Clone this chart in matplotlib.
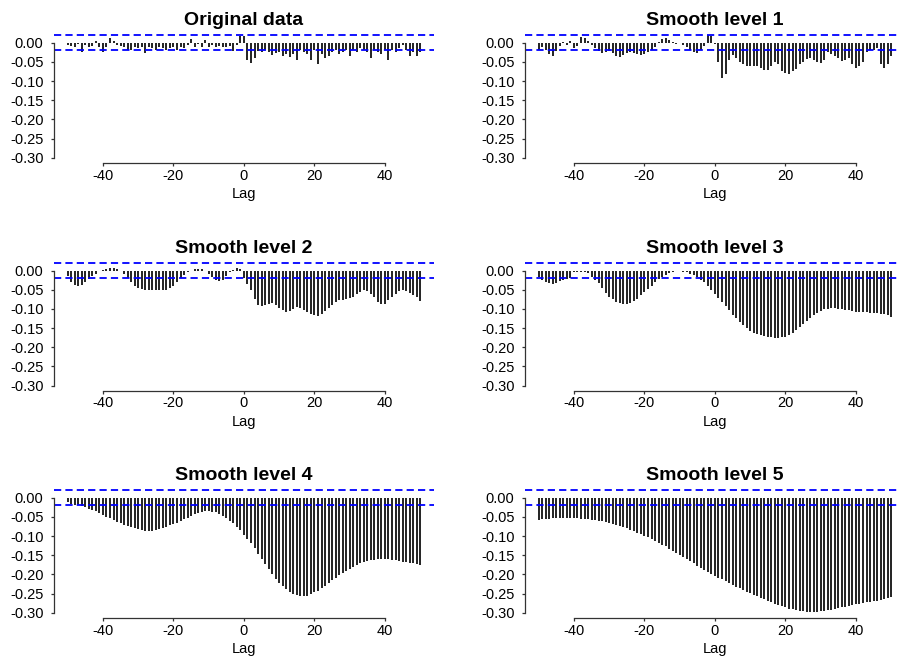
import numpy as np
import matplotlib
matplotlib.use('Agg')
import matplotlib.pyplot as plt

plt.rcParams['font.family'] = ['Liberation Sans', 'DejaVu Sans']

lags = np.arange(-50, 51)
conf_level = 0.02

original = [
    -0.005, -0.008, -0.010, -0.004, -0.025, -0.006, -0.012, -0.008, 0.004, -0.010,
    -0.025, -0.012, 0.012, 0.004, -0.006, -0.008, -0.012, -0.018, -0.020, -0.012,
    -0.015, -0.010, -0.028, -0.012, -0.015, -0.018, -0.012, -0.015, -0.020, -0.015,
    -0.012, -0.018, -0.012, -0.015, -0.006, 0.010, -0.010, -0.004, -0.012, 0.008,
    -0.010, -0.005, -0.012, -0.008, -0.010, -0.012, -0.008, -0.022, -0.005, 0.018,
    0.018,
    -0.045, -0.052, -0.040, -0.022, -0.025, -0.020, -0.025, -0.032, -0.028, -0.025,
    -0.035, -0.030, -0.038, -0.030, -0.045, -0.020, -0.025, -0.030, -0.045, -0.020,
    -0.055, -0.030, -0.040, -0.035, -0.025, -0.020, -0.030, -0.025, -0.020, -0.035,
    -0.020, -0.025, -0.015, -0.020, -0.025, -0.040, -0.020, -0.025, -0.030, -0.020,
    -0.045, -0.020, -0.025, -0.015, -0.005, -0.020, -0.035, -0.025, -0.035, -0.025,
]

smooth1 = [
    -0.018, -0.012, -0.020, -0.030, -0.036, -0.022, -0.008, 0.003, -0.006, 0.004,
    -0.014, -0.008, 0.016, 0.012, 0.004, -0.006, -0.015, -0.022, -0.026, -0.024,
    -0.022, -0.028, -0.035, -0.038, -0.032, -0.028, -0.025, -0.028, -0.030, -0.033,
    -0.030, -0.025, -0.020, -0.012, 0.002, 0.010, 0.012, 0.006, 0.002, -0.004,
    -0.002, -0.005, -0.010, -0.018, -0.025, -0.028, -0.020, -0.008, 0.020, 0.018,
    -0.003,
    -0.050, -0.092, -0.083, -0.045, -0.032, -0.040, -0.050, -0.055, -0.060, -0.060,
    -0.060, -0.062, -0.065, -0.070, -0.070, -0.060, -0.050, -0.055, -0.075, -0.080,
    -0.083, -0.075, -0.068, -0.055, -0.050, -0.042, -0.040, -0.045, -0.050, -0.052,
    -0.045, -0.025, -0.030, -0.035, -0.040, -0.048, -0.045, -0.040, -0.055, -0.065,
    -0.062, -0.050, -0.025, -0.020, -0.020, -0.015, -0.055, -0.065, -0.055, -0.035,
]

smooth2 = [
    -0.015, -0.030, -0.038, -0.040, -0.038, -0.030, -0.022, -0.015, -0.008, -0.002,
    0.002, 0.005, 0.007, 0.007, 0.005, 0.000, -0.010, -0.020, -0.030, -0.040,
    -0.045, -0.048, -0.050, -0.050, -0.050, -0.050, -0.050, -0.050, -0.050, -0.045,
    -0.040, -0.030, -0.020, -0.012, -0.005, 0.000, 0.004, 0.005, 0.004, 0.000,
    -0.008, -0.018, -0.025, -0.028, -0.025, -0.015, -0.005, 0.002, 0.006, 0.004,
    -0.020,
    -0.035, -0.050, -0.075, -0.090, -0.092, -0.090, -0.088, -0.085, -0.090, -0.097,
    -0.103, -0.107, -0.106, -0.100, -0.095, -0.098, -0.103, -0.108, -0.113, -0.117,
    -0.118, -0.113, -0.105, -0.098, -0.090, -0.083, -0.078, -0.076, -0.074, -0.072,
    -0.068, -0.062, -0.055, -0.050, -0.052, -0.060, -0.070, -0.082, -0.088, -0.086,
    -0.078, -0.068, -0.060, -0.052, -0.050, -0.052, -0.058, -0.065, -0.070, -0.080,
]

smooth3 = [
    -0.018, -0.025, -0.030, -0.033, -0.034, -0.032, -0.028, -0.024, -0.021, -0.019,
    -0.005, -0.003, -0.003, -0.003, -0.006, -0.018, -0.024, -0.033, -0.045, -0.058,
    -0.068, -0.075, -0.081, -0.085, -0.087, -0.087, -0.085, -0.080, -0.073, -0.064,
    -0.057, -0.048, -0.040, -0.031, -0.023, -0.016, -0.011, -0.006, -0.004, -0.002,
    -0.002, -0.003, -0.005, -0.008, -0.012, -0.018, -0.024, -0.031, -0.040, -0.050,
    -0.060,
    -0.072, -0.083, -0.093, -0.103, -0.115, -0.124, -0.133, -0.142, -0.150, -0.157,
    -0.162, -0.166, -0.169, -0.171, -0.173, -0.174, -0.175, -0.175, -0.174, -0.172,
    -0.168, -0.162, -0.155, -0.147, -0.139, -0.131, -0.123, -0.116, -0.110, -0.105,
    -0.101, -0.099, -0.098, -0.098, -0.099, -0.100, -0.102, -0.104, -0.106, -0.107,
    -0.108, -0.109, -0.109, -0.110, -0.110, -0.111, -0.112, -0.114, -0.117, -0.121,
]

smooth4 = [
    -0.012, -0.016, -0.018, -0.020, -0.022, -0.025, -0.028, -0.031, -0.035, -0.040,
    -0.045, -0.049, -0.054, -0.058, -0.062, -0.066, -0.070, -0.074, -0.077, -0.080,
    -0.082, -0.084, -0.086, -0.086, -0.086, -0.085, -0.082, -0.079, -0.076, -0.072,
    -0.069, -0.065, -0.061, -0.056, -0.052, -0.047, -0.043, -0.039, -0.037, -0.035,
    -0.035, -0.036, -0.038, -0.042, -0.047, -0.053, -0.060, -0.067, -0.075, -0.085,
    -0.096,
    -0.107, -0.119, -0.132, -0.146, -0.160, -0.174, -0.187, -0.199, -0.211, -0.221,
    -0.231, -0.239, -0.246, -0.251, -0.254, -0.256, -0.256, -0.255, -0.251, -0.247,
    -0.242, -0.236, -0.229, -0.222, -0.215, -0.208, -0.202, -0.196, -0.190, -0.185,
    -0.180, -0.175, -0.171, -0.168, -0.165, -0.162, -0.161, -0.160, -0.159, -0.159,
    -0.160, -0.161, -0.163, -0.165, -0.167, -0.168, -0.170, -0.171, -0.173, -0.175,
]

smooth5 = [
    -0.058, -0.056, -0.055, -0.055, -0.054, -0.054, -0.054, -0.054, -0.054, -0.054,
    -0.054, -0.054, -0.055, -0.055, -0.056, -0.057, -0.058, -0.060, -0.061, -0.063,
    -0.066, -0.068, -0.071, -0.074, -0.077, -0.080, -0.083, -0.087, -0.091, -0.095,
    -0.099, -0.103, -0.108, -0.113, -0.117, -0.122, -0.127, -0.133, -0.138, -0.144,
    -0.149, -0.155, -0.160, -0.166, -0.171, -0.177, -0.183, -0.188, -0.193, -0.198,
    -0.203,
    -0.208, -0.213, -0.218, -0.222, -0.227, -0.232, -0.236, -0.241, -0.245, -0.249,
    -0.253, -0.257, -0.261, -0.265, -0.269, -0.273, -0.277, -0.280, -0.283, -0.286,
    -0.289, -0.291, -0.293, -0.295, -0.296, -0.297, -0.297, -0.297, -0.297, -0.296,
    -0.295, -0.294, -0.292, -0.290, -0.288, -0.286, -0.284, -0.282, -0.280, -0.278,
    -0.277, -0.275, -0.273, -0.271, -0.270, -0.268, -0.266, -0.264, -0.261, -0.258,
]

titles = ['Original data', 'Smooth level 1', 'Smooth level 2',
          'Smooth level 3', 'Smooth level 4', 'Smooth level 5']
series = [original, smooth1, smooth2, smooth3, smooth4, smooth5]

x_ticks = [-40, -20, 0, 20, 40]
y_ticks = [0.00, -0.05, -0.10, -0.15, -0.20, -0.25, -0.30]

W, H = 899, 657
col_left = [53.6, 524.6]
row_top = [30.1, 258.0, 485.2]
panel_w, panel_h = 380.7, 132.5


def draw_panel(ax, title, values):
    ax.vlines(lags, 0, values, color='#1a1a1a', lw=1.35)
    for y in (conf_level, -conf_level):
        ax.axhline(y, color='#0000ff', lw=1.3, ls=(0, (4.0, 2.3)))

    ax.set_xlim(-54, 54)
    ax.set_ylim(-0.3128, 0.0328)
    for side in ('top', 'right'):
        ax.spines[side].set_visible(False)
    ax.spines['left'].set_bounds(-0.30, 0.0)
    ax.spines['bottom'].set_bounds(-40, 40)
    for side in ('left', 'bottom'):
        ax.spines[side].set_color('#333333')
        ax.spines[side].set_linewidth(0.9)

    ax.set_xticks(x_ticks)
    ax.set_xticklabels([str(t) for t in x_ticks])
    ax.set_yticks(y_ticks)
    ax.set_yticklabels(['%.2f' % t for t in y_ticks])
    ax.tick_params(axis='both', length=2.5, width=0.9, color='#333333',
                   labelsize=10.5, labelcolor='black')
    ax.tick_params(axis='y', pad=4.7)
    ax.tick_params(axis='x', pad=1.8)
    ax.set_xlabel('Lag', fontsize=10.5, labelpad=3.0)
    ax.set_title(title, fontsize=14, fontweight='bold', pad=3.6)


fig = plt.figure(figsize=(W / 100, H / 100), dpi=100)
for i, (title, values) in enumerate(zip(titles, series)):
    r, c = divmod(i, 2)
    rect = [col_left[c] / W, 1 - (row_top[r] + panel_h) / H,
            panel_w / W, panel_h / H]
    ax = fig.add_axes(rect)
    draw_panel(ax, title, values)

fig.savefig('out.png', dpi=100)
